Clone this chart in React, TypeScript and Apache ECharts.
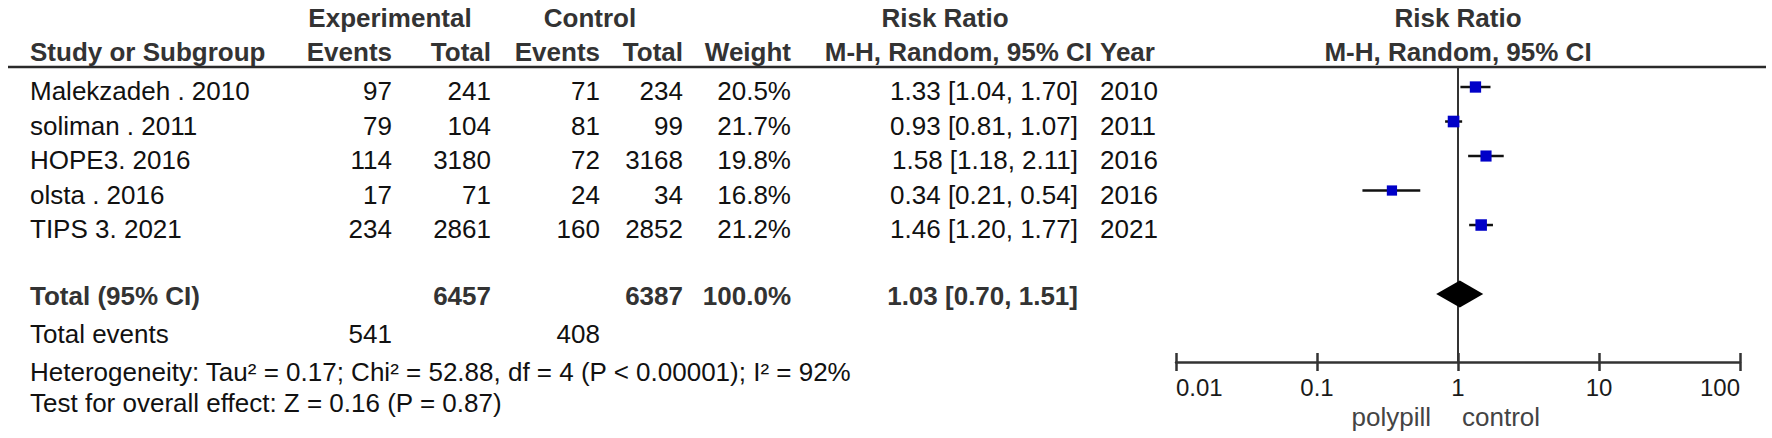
import React, { useEffect, useRef } from "react";
import * as echarts from "echarts";

const studies = ["Malekzadeh . 2010", "soliman . 2011", "HOPE3. 2016", "olsta . 2016", "TIPS 3. 2021"];
const expEvents = [97, 79, 114, 17, 234];
const expTotal = [241, 104, 3180, 71, 2861];
const ctrlEvents = [71, 81, 72, 24, 160];
const ctrlTotal = [234, 99, 3168, 34, 2852];
const weights = [20.5, 21.7, 19.8, 16.8, 21.2];
const rr = [1.33, 0.93, 1.58, 0.34, 1.46];
const rrLow = [1.04, 0.81, 1.18, 0.21, 1.2];
const rrHigh = [1.7, 1.07, 2.11, 0.54, 1.77];
const years = [2010, 2011, 2016, 2016, 2021];

const totalLabel = "Total (95% CI)";
const totalExp = 6457;
const totalCtrl = 6387;
const totalWeight = 100.0;
const totalRR = 1.03;
const totalLow = 0.7;
const totalHigh = 1.51;
const totalEventsExp = 541;
const totalEventsCtrl = 408;
const heterogeneity = "Heterogeneity: Tau² = 0.17; Chi² = 52.88, df = 4 (P < 0.00001); I² = 92%";
const overallTest = "Test for overall effect: Z = 0.16 (P = 0.87)";
const axisTicks = [0.01, 0.1, 1, 10, 100];
const favoursLeft = "polypill";
const favoursRight = "control";

const FONT = '"Liberation Sans", Arial, Helvetica, sans-serif';
const FS = 26;

function fmtCI(v: number, l: number, h: number) {
  return `${v.toFixed(2)} [${l.toFixed(2)}, ${h.toFixed(2)}]`;
}

export default function App() {
  const ref = useRef<HTMLDivElement>(null);
  useEffect(() => {
    document.body.style.margin = "0";
    const chart = echarts.init(ref.current as HTMLDivElement, null, { renderer: "svg" });
    const totalRow = studies.length + 1;
    const axisCommon = {
      type: "log",
      logBase: 10,
      min: axisTicks[0],
      max: axisTicks[axisTicks.length - 1],
      position: "bottom",
      splitLine: { show: false },
      minorTick: { show: false },
      minorSplitLine: { show: false },
    };
    chart.setOption({
      animation: false,
      grid: { left: 1176, right: 32, top: 67, bottom: 76 },
      xAxis: [
        {
          ...axisCommon,
          axisLine: { show: true, onZero: false, lineStyle: { color: "#333", width: 2.5 } },
          axisTick: { show: true, inside: false, length: 9, lineStyle: { color: "#333", width: 2.5 } },
          axisLabel: {
            show: true,
            fontSize: 24,
            color: "#1a1a1a",
            fontFamily: FONT,
            margin: 13,
            alignMinLabel: "left",
            alignMaxLabel: "right",
            formatter: (v: number) => (v < 1 ? String(+v.toPrecision(2)) : String(Math.round(v))),
          },
        },
        {
          ...axisCommon,
          axisLine: { show: false, onZero: false },
          axisTick: { show: true, inside: true, length: 9, lineStyle: { color: "#333", width: 2.5 } },
          axisLabel: { show: false },
        },
      ],
      yAxis: { type: "value", inverse: true, min: -0.58, max: 7.97, show: false },
      series: [
        {
          type: "custom",
          name: "ci",
          data: rrLow.map((l, i) => [l, rrHigh[i], i]),
          encode: { x: [0, 1], y: 2 },
          renderItem: (params: any, api: any) => {
            const p1 = api.coord([api.value(0), api.value(2)]);
            const p2 = api.coord([api.value(1), api.value(2)]);
            return {
              type: "line",
              shape: { x1: p1[0], y1: p1[1], x2: p2[0], y2: p2[1] },
              style: { stroke: "#111", lineWidth: 2.5 },
            };
          },
          z: 2,
        },
        {
          type: "scatter",
          name: "rr",
          data: rr.map((v, i) => [v, i]),
          symbol: "rect",
          symbolSize: (val: any, p: any) => Math.sqrt(weights[p.dataIndex]) * 2.5,
          itemStyle: { color: "#0000C8", opacity: 1 },
          z: 3,
          markLine: {
            silent: true,
            symbol: "none",
            label: { show: false },
            lineStyle: { color: "#333", width: 2, type: "solid" },
            data: [{ xAxis: 1 }],
            z: 1,
          },
        },
        {
          type: "custom",
          name: "total",
          data: [[totalLow, totalRR, totalHigh, totalRow]],
          encode: { x: [0, 1, 2], y: 3 },
          renderItem: (params: any, api: any) => {
            const l = api.coord([api.value(0), api.value(3)]);
            const c = api.coord([api.value(1), api.value(3)]);
            const r = api.coord([api.value(2), api.value(3)]);
            const h = 13.5;
            return {
              type: "polygon",
              shape: { points: [[l[0], l[1]], [c[0], c[1] - h], [r[0], r[1]], [c[0], c[1] + h]] },
              style: { fill: "#000" },
            };
          },
          z: 4,
        },
      ],
    });

    const rowY = (i: number) => chart.convertToPixel({ yAxisIndex: 0 }, i) as number;
    const x1 = chart.convertToPixel({ xAxisIndex: 0 }, 1) as number;

    const els: any[] = [];
    const t = (text: string, x: number, y: number, align: string, bold = false, color = "#111") => {
      els.push({
        type: "text",
        x,
        y,
        silent: true,
        style: {
          text,
          fill: color,
          fontFamily: FONT,
          fontSize: FS,
          fontWeight: bold ? "bold" : "normal",
          align,
          textAlign: align,
          verticalAlign: "middle",
          textVerticalAlign: "middle",
        },
      });
    };

    const col = { study: 30, exEv: 392, exTot: 491, ctEv: 600, ctTot: 683, wt: 791, rr: 1078, rrHead: 1092, year: 1100 };
    const HC = "#333";
    // headers
    t("Experimental", 390, 18, "center", true, HC);
    t("Control", 590, 18, "center", true, HC);
    t("Risk Ratio", 945, 18, "center", true, HC);
    t("Risk Ratio", x1, 18, "center", true, HC);
    t("Study or Subgroup", col.study, 52, "left", true, HC);
    t("Events", col.exEv, 52, "right", true, HC);
    t("Total", col.exTot, 52, "right", true, HC);
    t("Events", col.ctEv, 52, "right", true, HC);
    t("Total", col.ctTot, 52, "right", true, HC);
    t("Weight", col.wt, 52, "right", true, HC);
    t("M-H, Random, 95% CI", col.rrHead, 52, "right", true, HC);
    t("Year", col.year, 52, "left", true, HC);
    t("M-H, Random, 95% CI", x1, 52, "center", true, HC);

    els.push({
      type: "line",
      silent: true,
      shape: { x1: 8, y1: 67, x2: 1766, y2: 67 },
      style: { stroke: "#2a2a2a", lineWidth: 2.5 },
    });

    studies.forEach((s, i) => {
      const y = rowY(i) + 4;
      t(s, col.study, y, "left");
      t(String(expEvents[i]), col.exEv, y, "right");
      t(String(expTotal[i]), col.exTot, y, "right");
      t(String(ctrlEvents[i]), col.ctEv, y, "right");
      t(String(ctrlTotal[i]), col.ctTot, y, "right");
      t(weights[i].toFixed(1) + "%", col.wt, y, "right");
      t(fmtCI(rr[i], rrLow[i], rrHigh[i]), col.rr, y, "right");
      t(String(years[i]), col.year, y, "left");
    });

    const ty = rowY(totalRow) + 2;
    t(totalLabel, col.study, ty, "left", true, HC);
    t(String(totalExp), col.exTot, ty, "right", true, HC);
    t(String(totalCtrl), col.ctTot, ty, "right", true, HC);
    t(totalWeight.toFixed(1) + "%", col.wt, ty, "right", true, HC);
    t(fmtCI(totalRR, totalLow, totalHigh), col.rr, ty, "right", true, HC);

    t("Total events", col.study, 334, "left");
    t(String(totalEventsExp), col.exEv, 334, "right");
    t(String(totalEventsCtrl), col.ctEv, 334, "right");
    t(heterogeneity, col.study, 372, "left");
    t(overallTest, col.study, 403, "left");

    t(favoursLeft, x1 - 27, 417, "right", false, "#444");
    t(favoursRight, x1 + 4, 417, "left", false, "#444");

    chart.setOption({ graphic: { elements: els } });

    return () => chart.dispose();
  }, []);
  return <div ref={ref} style={{ width: 1772, height: 438 }} />;
}
